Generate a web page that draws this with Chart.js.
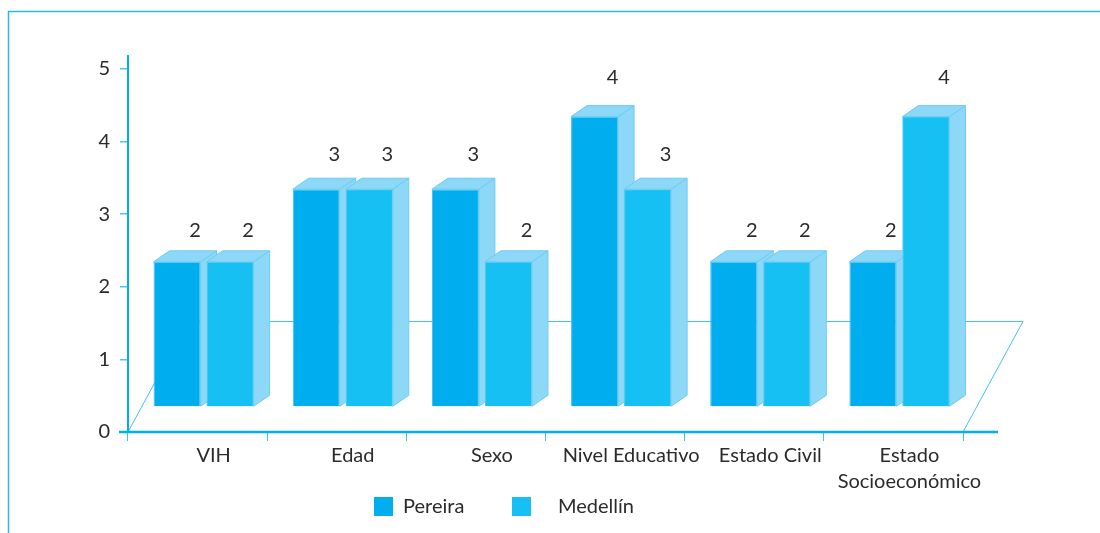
<!DOCTYPE html>
<html>
<head>
<meta charset="utf-8">
<script src="https://cdn.jsdelivr.net/npm/chart.js@4/dist/chart.umd.min.js"></script>
<style>
html,body{margin:0;padding:0;background:#fff;}
canvas{display:block;}
</style>
</head>
<body>
<canvas id="c" width="1100" height="533"></canvas>
<script>
const categories = ['VIH', 'Edad', 'Sexo', 'Nivel Educativo', 'Estado Civil', 'Estado Socioeconómico'];
const tickLabels = ['VIH', 'Edad', 'Sexo', 'Nivel Educativo', 'Estado Civil', ['Estado', 'Socioeconómico']];
const pereira = [2, 3, 3, 4, 2, 2];
const medellin = [2, 3, 2, 3, 2, 4];
const seriesNames = ['Pereira', 'Medellín'];
const yTicks = [0, 1, 2, 3, 4, 5];

const FONT = 'Lato';
const TEXT = '#2b2b2b';
const AXIS = '#00AEEF';
const THIN = '#45c2ef';
const FRONT = ['#00AEEF', '#17C0F2'];
const FACE = '#8DD7F7';
const FACE_EDGE = '#6CCDF4';
const SHIFT = {x: 6, y: -25};
const DEPTH = {x: 16, y: -11};
const FLOOR = {x: 60, y: -111};

const bar3d = {
  id: 'bar3d',
  beforeDraw(chart) {
    const ctx = chart.ctx;
    ctx.save();
    ctx.fillStyle = '#fff';
    ctx.fillRect(0, 0, chart.width, chart.height);
    ctx.strokeStyle = '#2db7ea';
    ctx.lineWidth = 1.5;
    ctx.beginPath();
    ctx.moveTo(8.5, chart.height);
    ctx.lineTo(8.5, 11.5);
    ctx.lineTo(chart.width, 11.5);
    ctx.stroke();
    ctx.restore();
  },
  beforeDatasetsDraw(chart) {
    const ctx = chart.ctx, a = chart.chartArea;
    ctx.save();
    // floor
    ctx.strokeStyle = THIN;
    ctx.lineWidth = 1;
    ctx.beginPath();
    ctx.moveTo(a.left, a.bottom);
    ctx.lineTo(a.left + FLOOR.x, a.bottom + FLOOR.y + 0.5);
    ctx.lineTo(a.right + FLOOR.x, a.bottom + FLOOR.y + 0.5);
    ctx.lineTo(a.right, a.bottom);
    ctx.stroke();
    // axes
    ctx.strokeStyle = AXIS;
    ctx.lineWidth = 2;
    ctx.beginPath();
    ctx.moveTo(a.left, 55);
    ctx.lineTo(a.left, a.bottom);
    ctx.stroke();
    ctx.lineWidth = 2.5;
    ctx.beginPath();
    ctx.moveTo(a.left - 9, a.bottom);
    ctx.lineTo(a.right + 35, a.bottom);
    ctx.stroke();
    ctx.restore();
    ctx.save();
    ctx.translate(SHIFT.x, SHIFT.y);
  },
  afterDatasetsDraw(chart) {
    const ctx = chart.ctx;
    const metas = chart.getSortedVisibleDatasetMetas().slice().sort((m1, m2) => m1.index - m2.index);
    metas.forEach((meta, k) => {
      meta.data.forEach(bar => {
        if (k > 0) bar.draw(ctx);
        const p = bar.getProps(['x', 'y', 'base', 'width'], true);
        const l = p.x - p.width / 2, r = p.x + p.width / 2;
        ctx.fillStyle = FACE;
        ctx.strokeStyle = FACE_EDGE;
        ctx.lineWidth = 1;
        ctx.beginPath();
        ctx.moveTo(r, p.y);
        ctx.lineTo(r + DEPTH.x, p.y + DEPTH.y);
        ctx.lineTo(r + DEPTH.x, p.base + DEPTH.y);
        ctx.lineTo(r, p.base);
        ctx.closePath();
        ctx.fill();
        ctx.stroke();
        ctx.beginPath();
        ctx.moveTo(l, p.y);
        ctx.lineTo(l + DEPTH.x, p.y + DEPTH.y);
        ctx.lineTo(r + DEPTH.x, p.y + DEPTH.y);
        ctx.lineTo(r, p.y);
        ctx.closePath();
        ctx.fill();
        ctx.stroke();
      });
    });
    ctx.restore();
    // value labels
    ctx.save();
    ctx.fillStyle = TEXT;
    ctx.font = '20px ' + FONT;
    ctx.textAlign = 'center';
    ctx.textBaseline = 'middle';
    metas.forEach(meta => {
      const ds = chart.data.datasets[meta.index];
      meta.data.forEach((bar, i) => {
        const v = ds.data[i];
        const p = bar.getProps(['x', 'y'], true);
        ctx.fillText(String(v), p.x + SHIFT.x + 18, p.y + SHIFT.y - (23 + 4 * v));
      });
    });
    // legend
    const items = [{x: 374, tx: 403}, {x: 512, tx: 558}];
    ctx.textAlign = 'left';
    items.forEach((it, i) => {
      ctx.fillStyle = FRONT[i];
      ctx.fillRect(it.x, 497, 19, 19);
      ctx.fillStyle = TEXT;
      ctx.fillText(seriesNames[i], it.tx, 507);
    });
    ctx.restore();
  }
};

new Chart(document.getElementById('c'), {
  type: 'bar',
  data: {
    labels: tickLabels,
    datasets: [
      {label: seriesNames[0], data: pereira, backgroundColor: FRONT[0], borderColor: '#3cc0f0', borderWidth: 1, clip: false},
      {label: seriesNames[1], data: medellin, backgroundColor: FRONT[1], borderColor: '#4ccaf3', borderWidth: 1, clip: false}
    ]
  },
  options: {
    responsive: false,
    animation: false,
    layout: {padding: {left: 0, right: 137, top: 69, bottom: 0}},
    datasets: {bar: {categoryPercentage: 0.762, barPercentage: 0.887}},
    plugins: {legend: {display: false}, tooltip: {enabled: false}},
    scales: {
      x: {
        offset: true,
        border: {display: false},
        grid: {display: true, drawOnChartArea: false, drawTicks: true, tickLength: 9, color: THIN, lineWidth: 1},
        ticks: {labelOffset: 16, padding: 2, autoSkip: false, maxRotation: 0, color: TEXT, font: {family: FONT, size: 20, lineHeight: 1.3}},
        afterFit(s) { s.height = 101; }
      },
      y: {
        min: yTicks[0],
        max: yTicks[yTicks.length - 1],
        border: {display: false},
        grid: {display: true, drawOnChartArea: false, drawTicks: true, tickLength: 8, color: '#4fc4ef', lineWidth: 1.5},
        ticks: {stepSize: 1, padding: 10, color: TEXT, font: {family: FONT, size: 20}},
        afterFit(s) { s.width = 128; }
      }
    }
  },
  plugins: [bar3d]
});
</script>
</body>
</html>
